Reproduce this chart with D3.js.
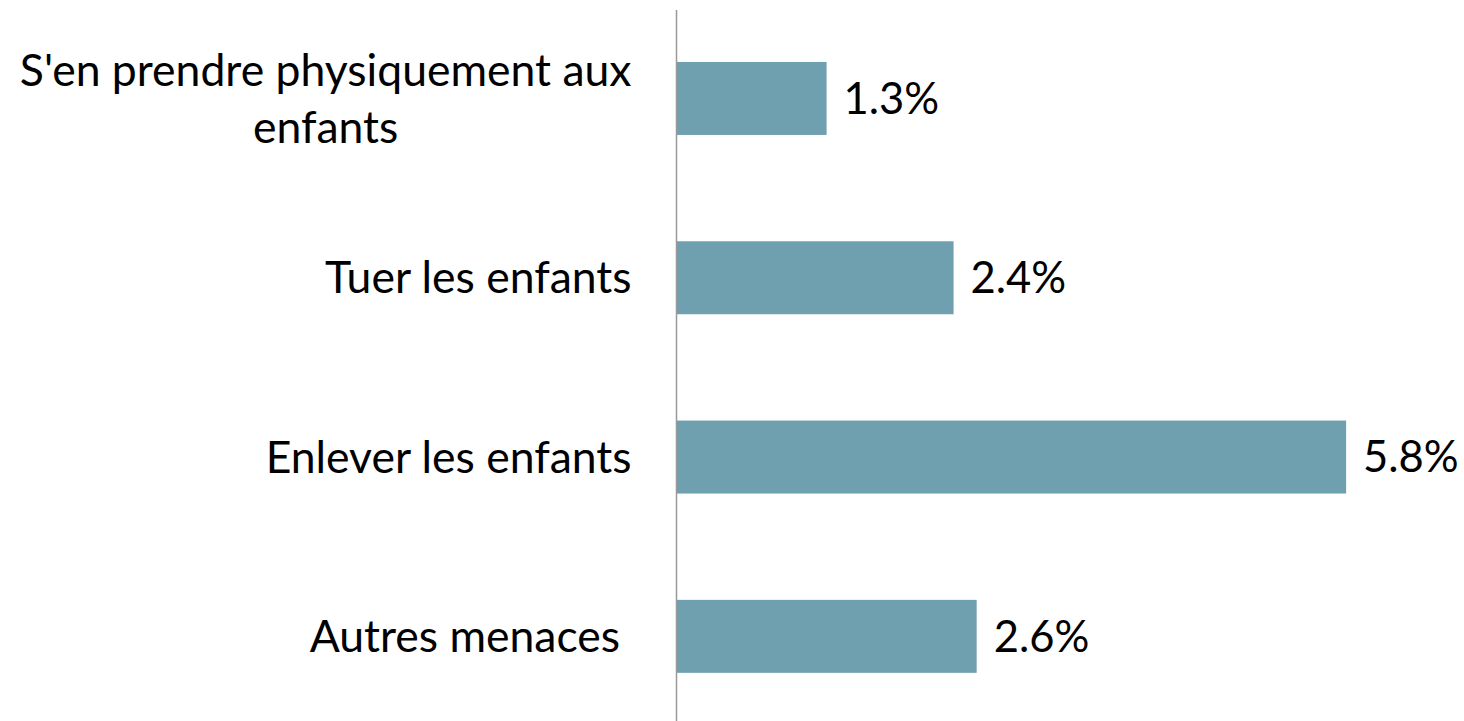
<!DOCTYPE html>
<html>
<head>
<meta charset="utf-8">
<script src="https://cdn.jsdelivr.net/npm/d3@7"></script>
<style>
  html, body { margin: 0; padding: 0; background: #ffffff; }
  svg { display: block; }
  text { font-family: "Lato", "Open Sans", sans-serif; fill: #000; white-space: pre; }
</style>
</head>
<body>
<svg id="chart" width="1464" height="721"></svg>
<script>
const categories = ["S'en prendre physiquement aux enfants", "Tuer les enfants", "Enlever les enfants", "Autres menaces "];
const categoryLines = [["S'en prendre physiquement aux", "enfants"], ["Tuer les enfants"], ["Enlever les enfants"], ["Autres menaces "]];
const values = [1.3, 2.4, 5.8, 2.6];
const valueLabels = ["1.3%", "2.4%", "5.8%", "2.6%"];
const xDomain = [0, 6];

const svg = d3.select("#chart");
const labelFont = 44.5;
const valueFont = 43.5;
const capRatio = 0.70;

const x = d3.scaleLinear().domain(xDomain).range([676.5, 676.5 + 692.7]);
const y = d3.scaleBand().domain(categories).range([8.8, 726]).paddingInner(0.593).paddingOuter(0.2965);

svg.selectAll("rect.bar")
  .data(values)
  .join("rect")
  .attr("class", "bar")
  .attr("x", x(0))
  .attr("y", (d, i) => y(categories[i]))
  .attr("width", d => x(d) - x(0))
  .attr("height", y.bandwidth())
  .attr("fill", "#6fa0b0");

svg.append("line")
  .attr("x1", x(0)).attr("x2", x(0))
  .attr("y1", 10).attr("y2", 721)
  .attr("stroke", "#999999")
  .attr("stroke-width", 1.5);

svg.selectAll("text.value")
  .data(values)
  .join("text")
  .attr("class", "value")
  .attr("x", d => x(d) + 17)
  .attr("y", (d, i) => y(categories[i]) + y.bandwidth() / 2 + valueFont * capRatio / 2)
  .attr("font-size", valueFont)
  .text((d, i) => valueLabels[i]);

const labelRight = x(0) - 45;
const lineH = 57;
categoryLines.forEach((lines, i) => {
  const cy = y(categories[i]) + y.bandwidth() / 2;
  const g = svg.append("g");
  const texts = lines.map((ln, j) => g.append("text")
    .attr("font-size", labelFont)
    .attr("y", cy + labelFont * capRatio / 2 + (j - (lines.length - 1) / 2) * lineH)
    .text(ln));
  const widths = texts.map(t => t.node().getComputedTextLength());
  const maxW = d3.max(widths);
  texts.forEach((t, j) => {
    t.attr("x", labelRight - maxW / 2 - widths[j] / 2);
  });
});
</script>
</body>
</html>
